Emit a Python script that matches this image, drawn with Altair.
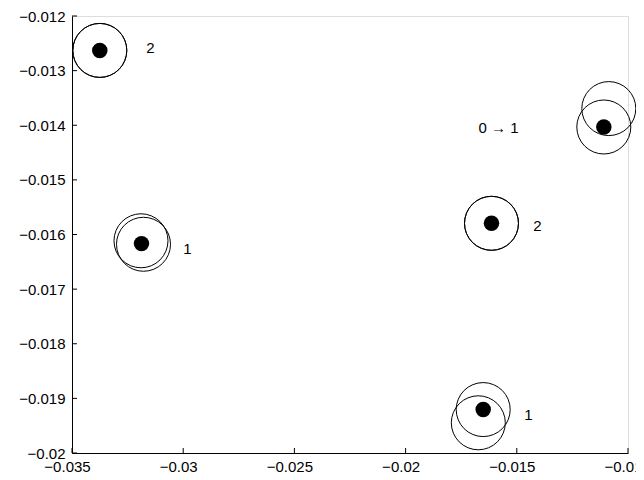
import altair as alt
import pandas as pd

# filled dots (data centres)
dot_x = [-0.03375, -0.011088, -0.016138, -0.031875, -0.016511]
dot_y = [-0.01263, -0.014032, -0.015795, -0.016167, -0.019205]

# open rings
ring_x = [-0.03375, -0.03375, -0.010863, -0.011088, -0.016138, -0.016138,
          -0.031898, -0.031785, -0.016511, -0.016731]
ring_y = [-0.01263, -0.01263, -0.013695, -0.014032, -0.015795, -0.015795,
          -0.016115, -0.016179, -0.019205, -0.019447]

# text annotations
label_text = ["2", "0 \u2192 1", "2", "1", "1"]
label_x = [-0.03147, -0.015823, -0.014069, -0.029807, -0.014474]
label_y = [-0.012591, -0.014056, -0.01585, -0.016271, -0.01931]

x_ticks = [-0.035, -0.03, -0.025, -0.02, -0.015, -0.01]
y_ticks = [-0.02, -0.019, -0.018, -0.017, -0.016, -0.015, -0.014, -0.013, -0.012]

W, H = 556, 437
FONT = "Liberation Sans"

xs = alt.Scale(domain=[-0.035, -0.01], nice=False, zero=False)
ys = alt.Scale(domain=[-0.02, -0.012], nice=False, zero=False)

dots = pd.DataFrame({"x": dot_x, "y": dot_y})
rings = pd.DataFrame({"x": ring_x, "y": ring_y})
labels = pd.DataFrame({"x": label_x, "y": label_y, "t": label_text})
xt = pd.DataFrame({"v": x_ticks})
yt = pd.DataFrame({"v": y_ticks})

ring_layer = alt.Chart(rings).mark_point(
    shape="circle", filled=False, stroke="black", strokeWidth=1, size=2916, opacity=1
).encode(
    x=alt.X("x:Q", scale=xs, title=None,
            axis=alt.Axis(values=x_ticks, format="~g", grid=False, ticks=False,
                          labelPadding=6, labelOffset=-5, labelFontSize=15,
                          labelFont=FONT, labelColor="black", domainColor="black",
                          labelFlush=False, labelOverlap=False)),
    y=alt.Y("y:Q", scale=ys, title=None,
            axis=alt.Axis(values=y_ticks, format="~g", grid=False, ticks=False,
                          labelPadding=7, labelFontSize=15, labelFont=FONT,
                          labelColor="black", domainColor="black",
                          labelFlush=False, labelOverlap=False)),
)

dot_layer = alt.Chart(dots).mark_point(
    shape="circle", filled=True, color="black", size=240, opacity=1
).encode(x=alt.X("x:Q", scale=xs), y=alt.Y("y:Q", scale=ys))

text_layer = alt.Chart(labels).mark_text(
    font=FONT, fontSize=15, color="black", align="center", baseline="middle"
).encode(x=alt.X("x:Q", scale=xs), y=alt.Y("y:Q", scale=ys), text="t:N")

xtick_layer = alt.Chart(xt).mark_rule(color="black", strokeWidth=1).encode(
    x=alt.X("v:Q", scale=xs), y=alt.value(H), y2=alt.value(H - 5)
)
ytick_layer = alt.Chart(yt).mark_rule(color="black", strokeWidth=1).encode(
    y=alt.Y("v:Q", scale=ys), x=alt.value(0), x2=alt.value(5)
)

chart = alt.layer(ring_layer, dot_layer, text_layer, xtick_layer, ytick_layer).properties(
    width=W, height=H,
    autosize=alt.AutoSizeParams(type="none"),
    padding={"left": 64, "top": 8, "right": 8, "bottom": 25},
).configure_view(stroke=None).configure(background="white")

chart.save("out.html", embed_options={"renderer": "svg", "actions": False})
